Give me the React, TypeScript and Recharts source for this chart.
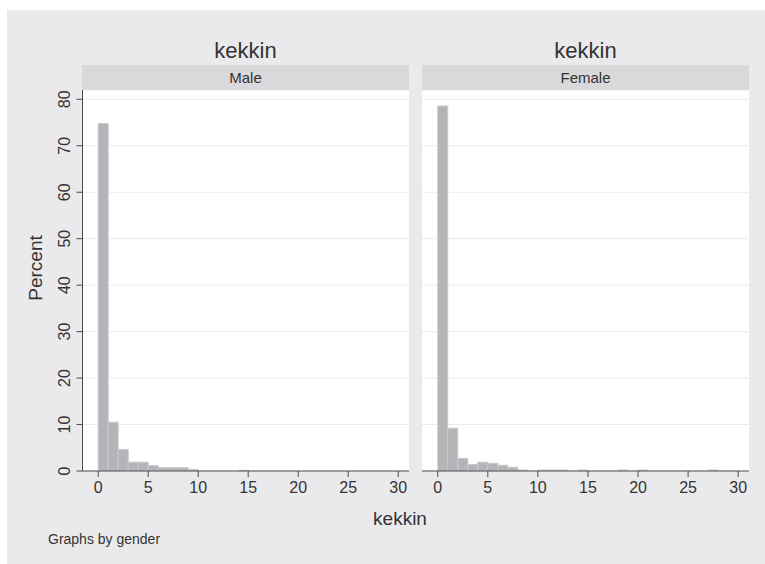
import React from 'react';
import { BarChart, Bar, XAxis, YAxis, CartesianGrid } from 'recharts';

const binCenters = [
  0.5, 1.5, 2.5, 3.5, 4.5, 5.5, 6.5, 7.5, 8.5, 9.5,
  10.5, 11.5, 12.5, 13.5, 14.5, 15.5, 16.5, 17.5, 18.5, 19.5,
  20.5, 21.5, 22.5, 23.5, 24.5, 25.5, 26.5, 27.5, 28.5, 29.5,
];
const malePercent = [
  74.8, 10.5, 4.65, 1.9, 1.9, 1.17, 0.74, 0.74, 0.74, 0.37,
  0, 0, 0, 0, 0.15, 0, 0, 0, 0, 0,
  0, 0, 0, 0, 0, 0, 0, 0, 0, 0,
];
const femalePercent = [
  78.55, 9.2, 2.7, 1.4, 1.9, 1.67, 1.23, 0.8, 0.2, 0,
  0.2, 0.2, 0.2, 0, 0.2, 0, 0, 0, 0.2, 0,
  0.2, 0, 0, 0, 0, 0, 0, 0.2, 0, 0,
];
const panelNames = ['Male', 'Female'];
const xTicks = [0, 5, 10, 15, 20, 25, 30];
const yTicks = [0, 10, 20, 30, 40, 50, 60, 70, 80];
const titleText = 'kekkin';
const xTitle = 'kekkin';
const yTitle = 'Percent';
const noteText = 'Graphs by gender';

const FONT = '"Liberation Sans", Arial, Helvetica, sans-serif';
const TEXT = '#333333';
const AXIS = '#4a4a4a';

const makeData = (vals: number[]) => binCenters.map((x, i) => ({ x, pct: vals[i] }));

const YTick = (props: any) => {
  const { x, y, payload } = props;
  const bx = x - 4.5;
  return (
    <text
      x={bx}
      y={y}
      transform={`rotate(-90, ${bx}, ${y})`}
      textAnchor="middle"
      fontSize={16}
      fontFamily={FONT}
      fill={TEXT}
    >
      {payload.value}
    </text>
  );
};

const Panel = ({ vals, left, width, showY }: { vals: number[]; left: number; width: number; showY: boolean }) => (
  <div style={{ position: 'absolute', left, top: 90 }}>
    <BarChart
      width={width}
      height={411}
      data={makeData(vals)}
      margin={{ top: 0, right: 0, bottom: 0, left: 0 }}
      barCategoryGap={0}
      barGap={0}
    >
      <CartesianGrid vertical={false} stroke="#ebebeb" fill="#ffffff" fillOpacity={1} />
      <XAxis
        type="number"
        dataKey="x"
        domain={[-1.57, 31.08]}
        ticks={xTicks}
        interval={0}
        allowDataOverflow
        height={30}
        tickSize={6}
        tickMargin={5}
        axisLine={{ stroke: AXIS }}
        tickLine={{ stroke: AXIS }}
        tick={{ fontSize: 16, fontFamily: FONT, fill: TEXT }}
      />
      <YAxis
        hide={!showY}
        width={showY ? 82.5 : 0}
        domain={[0, 82]}
        ticks={yTicks}
        interval={0}
        allowDataOverflow
        tickSize={6}
        axisLine={{ stroke: AXIS }}
        tickLine={{ stroke: AXIS }}
        tick={<YTick />}
      />
      <Bar dataKey="pct" fill="#b4b4b8" stroke="#c9c9cc" strokeWidth={1} isAnimationActive={false} />
    </BarChart>
  </div>
);

export default function App() {
  return (
    <div style={{ position: 'absolute', left: 0, top: 0, width: 765, height: 564, background: '#ffffff', overflow: 'hidden' }}>
      <svg width={765} height={564} style={{ position: 'absolute', left: 0, top: 0 }}>
        <rect x={7} y={10} width={758} height={554} fill="#eaeaec" />
        <rect x={82} y={65} width={327} height={25} fill="#d9d9db" />
        <rect x={422} y={65} width={327} height={25} fill="#d9d9db" />
        <text x={245.5} y={58} textAnchor="middle" fontSize={22} fontFamily={FONT} fill={TEXT}>{titleText}</text>
        <text x={585.5} y={58} textAnchor="middle" fontSize={22} fontFamily={FONT} fill={TEXT}>{titleText}</text>
        <text x={245.5} y={83} textAnchor="middle" fontSize={15} fontFamily={FONT} fill={TEXT}>{panelNames[0]}</text>
        <text x={585.5} y={83} textAnchor="middle" fontSize={15} fontFamily={FONT} fill={TEXT}>{panelNames[1]}</text>
        <text x={42} y={268} transform="rotate(-90, 42, 268)" textAnchor="middle" fontSize={19} fontFamily={FONT} fill={TEXT}>{yTitle}</text>
        <text x={400} y={525} textAnchor="middle" fontSize={19} fontFamily={FONT} fill={TEXT}>{xTitle}</text>
        <text x={48} y={544} fontSize={14} fontFamily={FONT} fill={TEXT}>{noteText}</text>
      </svg>
      <Panel vals={malePercent} left={0} width={409} showY={true} />
      <Panel vals={femalePercent} left={422} width={327} showY={false} />
    </div>
  );
}
